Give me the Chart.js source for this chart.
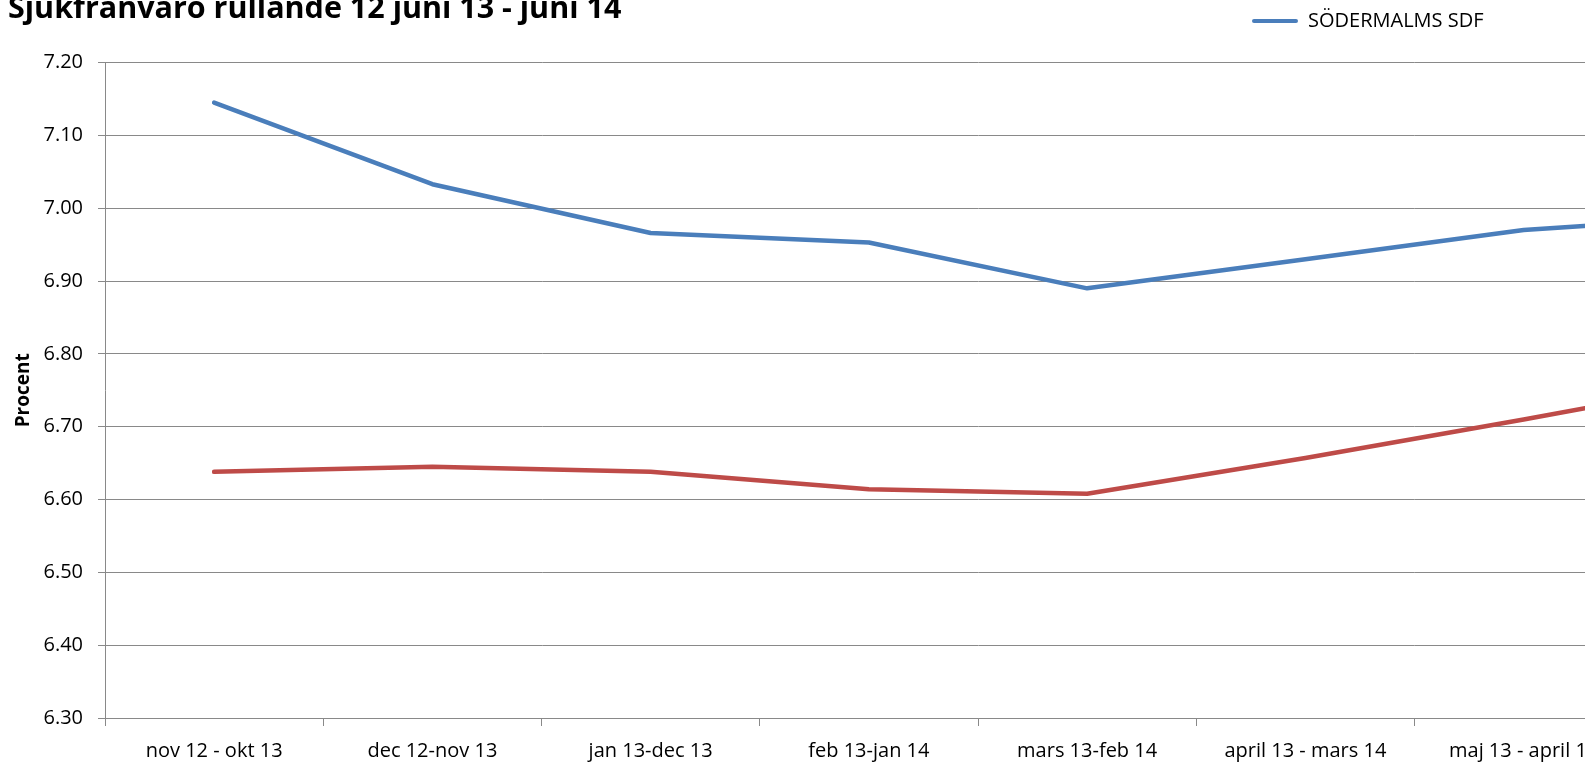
<!DOCTYPE html>
<html>
<head>
<meta charset="utf-8">
<script src="https://cdn.jsdelivr.net/npm/chart.js@4.4.1/dist/chart.umd.min.js"></script>
<style>
  html, body { margin: 0; padding: 0; overflow: hidden; background: #ffffff; width: 1585px; height: 763px; }
  #wrap { position: absolute; left: 0; top: 0; width: 1851px; height: 763px; }
</style>
</head>
<body>
<div id="wrap"><canvas id="chart"></canvas></div>
<script>
// ---- data ----
const categories = [
  'nov 12 - okt 13',
  'dec 12-nov 13',
  'jan 13-dec 13',
  'feb 13-jan 14',
  'mars 13-feb 14',
  'april 13 - mars 14',
  'maj 13 - april 14',
  'juni 13 - maj 14'
];
const sodermalmValues = [7.145, 7.033, 6.966, 6.953, 6.890, 6.930, 6.970, 6.990];
const comparisonValues = [6.638, 6.645, 6.638, 6.614, 6.608, 6.657, 6.710, 6.765];
const seriesNames = ['SÖDERMALMS SDF', 'STOCKHOLMS STAD'];
const chartTitle = 'Sjukfrånvaro rullande 12 juni 13 - juni 14';
const yAxisTitle = 'Procent';
const yMin = 6.3, yMax = 7.2, yStep = 0.1;

// ---- styles ----
const BLUE = '#4a7ebb';
const RED = '#be4b48';
const GRID = '#898989';
const FONT = "'Open Sans', sans-serif";
const LEGEND_ITEM_LEFT = 1252;

const legendPlacement = {
  id: 'legendPlacement',
  afterLayout(chart) {
    const lg = chart.legend;
    if (lg) lg.left = LEGEND_ITEM_LEFT - lg.options.labels.padding;
  }
};

new Chart(document.getElementById('chart'), {
  type: 'line',
  data: {
    labels: categories,
    datasets: [
      {
        label: seriesNames[0],
        data: sodermalmValues,
        borderColor: BLUE,
        backgroundColor: BLUE,
        borderWidth: 4.5,
        pointRadius: 0,
        tension: 0,
        borderCapStyle: 'round',
        borderJoinStyle: 'round'
      },
      {
        label: seriesNames[1],
        data: comparisonValues,
        borderColor: RED,
        backgroundColor: RED,
        borderWidth: 4.5,
        pointRadius: 0,
        tension: 0,
        borderCapStyle: 'round',
        borderJoinStyle: 'round'
      }
    ]
  },
  plugins: [legendPlacement],
  options: {
    responsive: true,
    maintainAspectRatio: false,
    animation: false,
    devicePixelRatio: 1,
    layout: { padding: { left: 8, right: 0, top: 0, bottom: 1 } },
    plugins: {
      tooltip: { enabled: false },
      title: {
        display: true,
        text: chartTitle,
        align: 'start',
        weight: 500,
        color: '#000',
        font: { family: FONT, size: 30.5, weight: 'bold', lineHeight: 1.2 },
        padding: { top: -50, bottom: 35 }
      },
      legend: {
        display: true,
        position: 'top',
        align: 'start',
        weight: 1000,
        labels: {
          color: '#000',
          font: { family: FONT, size: 20 },
          boxWidth: 46,
          boxHeight: 4,
          padding: 11,
          generateLabels(chart) {
            return Chart.defaults.plugins.legend.labels.generateLabels(chart)
              .filter(it => it.datasetIndex === 0)
              .map(it => Object.assign(it, { lineWidth: 0, fillStyle: BLUE, strokeStyle: BLUE, borderRadius: 2 }));
          }
        }
      }
    },
    scales: {
      x: {
        type: 'category',
        offset: true,
        grid: { display: true, offset: true, drawOnChartArea: false, drawTicks: true, tickLength: 8, color: GRID },
        border: { display: true, color: GRID, width: 1 },
        ticks: { color: '#000', font: { family: FONT, size: 20 }, padding: 13, maxRotation: 0, autoSkip: false },
        afterFit(scale) { scale.height = 44; }
      },
      y: {
        min: yMin,
        max: yMax,
        grid: { color: GRID, drawTicks: true, tickLength: 7 },
        border: { display: true, color: GRID, width: 1 },
        ticks: {
          stepSize: yStep,
          color: '#000',
          font: { family: FONT, size: 20 },
          padding: 15,
          callback: v => Number(v).toFixed(2)
        },
        title: {
          display: true,
          text: yAxisTitle,
          color: '#000',
          font: { family: FONT, size: 19, weight: 'bold', lineHeight: 1.2 },
          padding: { top: 4, bottom: 0 }
        },
        afterFit(scale) { scale.width = 97; }
      }
    }
  }
});
</script>
</body>
</html>
